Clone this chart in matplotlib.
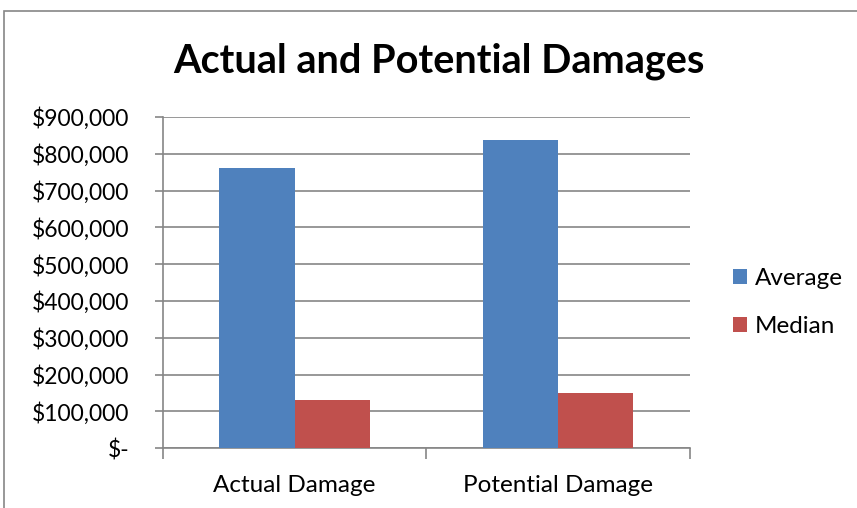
import numpy as np
import matplotlib.pyplot as plt
from matplotlib.patches import Rectangle
from matplotlib.ticker import FuncFormatter

plt.rcParams['font.family'] = ['Lato', 'DejaVu Sans']

categories = ['Actual Damage', 'Potential Damage']
average = [761000, 838000]
median = [132000, 149000]
series_names = ['Average', 'Median']
colors = ['#4f81bd', '#c0504d']

fig = plt.figure(figsize=(8.57, 5.08), dpi=100)
ax = fig.add_axes([0.190, 0.1175, 0.615, 0.6525])

# outer chart frame
fig.patches.append(Rectangle((4 / 857, -0.05), 1.2, 1 - 11 / 508 + 0.05,
                             transform=fig.transFigure, fill=False,
                             edgecolor='#868686', linewidth=1.2))

x = np.arange(len(categories))
w = 1 / 3.5
ax.bar(x - w / 2, average, w, color=colors[0], label=series_names[0], zorder=3)
ax.bar(x + w / 2, median, w, color=colors[1], label=series_names[1], zorder=3)

ax.set_xlim(-0.5, 1.5)
ax.set_ylim(0, 900000)
ax.set_yticks(np.arange(0, 900001, 100000))


def money(v, pos):
    if v == 0:
        return '$-'
    return '${:,.0f}'.format(v)


ax.yaxis.set_major_formatter(FuncFormatter(money))
ax.grid(axis='y', color='#868686', linewidth=1.2, zorder=0)

ax.set_xticks([-0.5, 0.5, 1.5])
ax.set_xticklabels([])
ax.set_xticks(x, minor=True)
ax.set_xticklabels(categories, minor=True)
ax.tick_params(axis='x', which='minor', length=0, pad=19, labelsize=17.5)
ax.tick_params(axis='x', which='major', length=8, color='#868686', width=1.2)
ax.tick_params(axis='y', length=6, color='#868686', width=1.2, labelsize=16.5, pad=18)

for s in ['top', 'right']:
    ax.spines[s].set_visible(False)
for s in ['left', 'bottom']:
    ax.spines[s].set_color('#868686')
    ax.spines[s].set_linewidth(1.2)

fig.text(0.512, 0.880, 'Actual and Potential Damages', ha='center', va='center',
         fontsize=28.5, fontweight='bold')

leg = ax.legend(loc='center left', bbox_to_anchor=(1.04, 0.44), frameon=False,
                fontsize=17.5, handlelength=0.6, handleheight=0.6, handletextpad=0.3,
                labelspacing=1.1)

fig.savefig('out.png', dpi=100)
